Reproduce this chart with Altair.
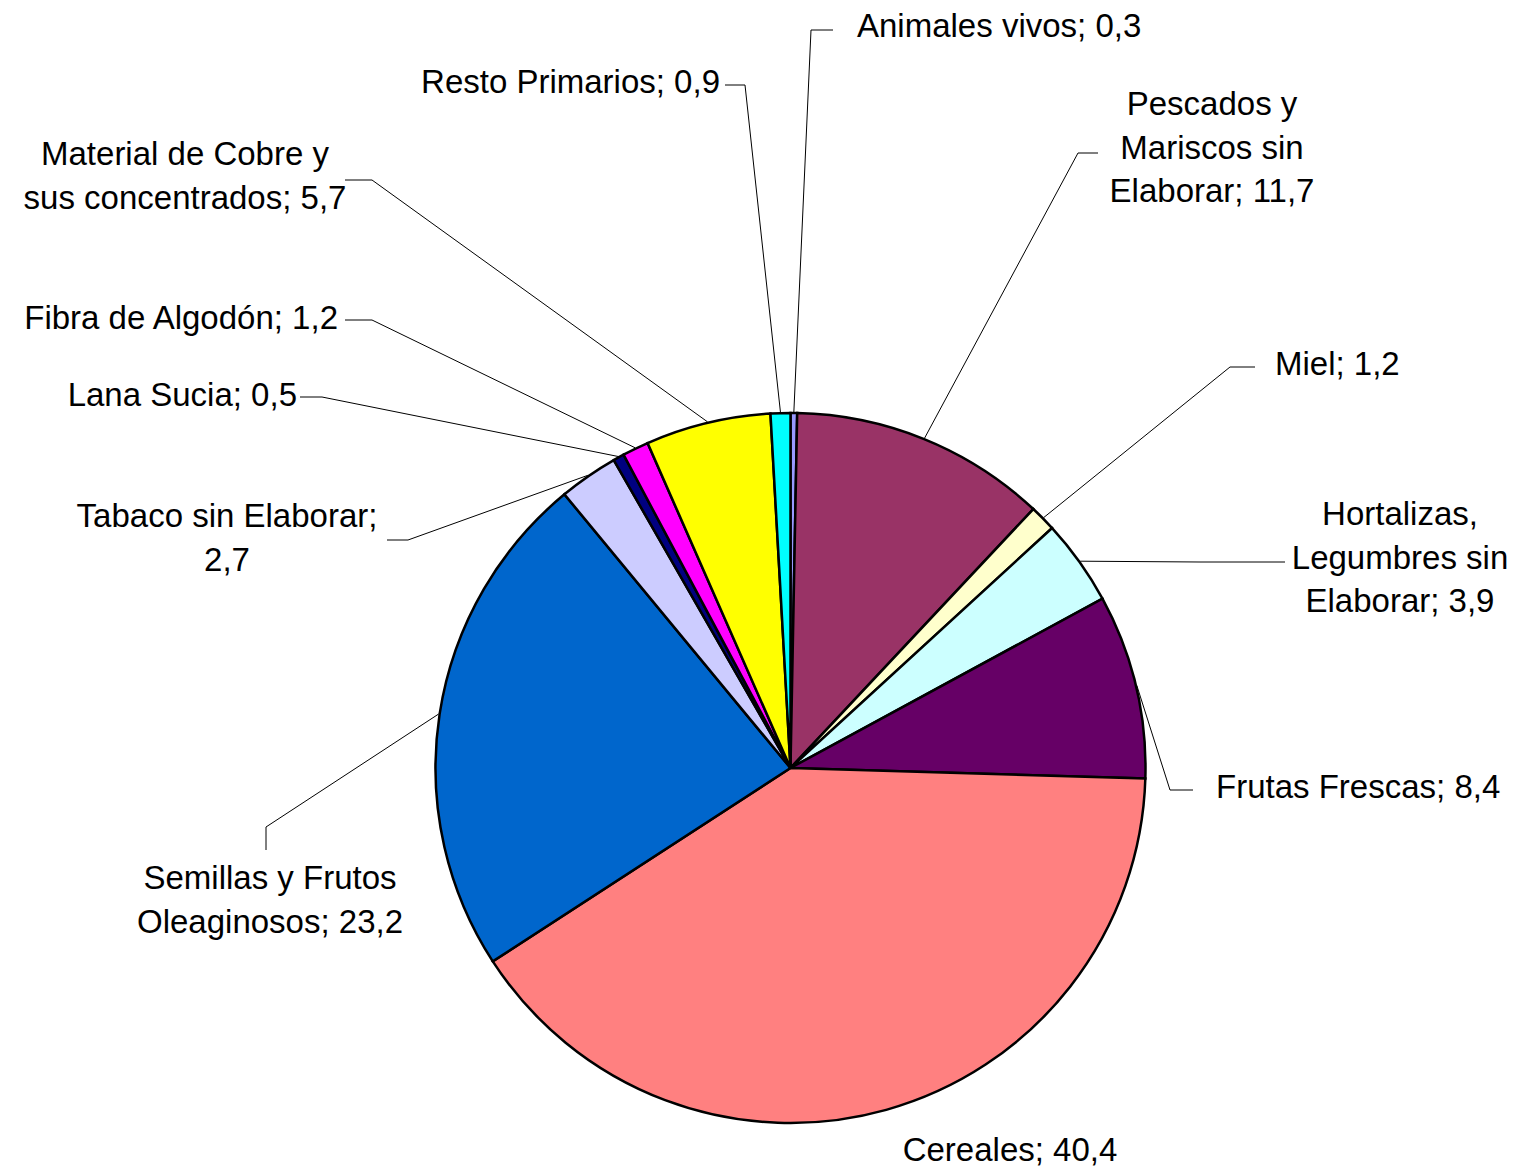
import math
import altair as alt
import pandas as pd

# ---------------- data ----------------
categories = [
    "Animales vivos",
    "Pescados y Mariscos sin Elaborar",
    "Miel",
    "Hortalizas, Legumbres sin Elaborar",
    "Frutas Frescas",
    "Cereales",
    "Semillas y Frutos Oleaginosos",
    "Tabaco sin Elaborar",
    "Lana Sucia",
    "Fibra de Algodón",
    "Material de Cobre y sus concentrados",
    "Resto Primarios",
]
values = [0.3, 11.7, 1.2, 3.9, 8.4, 40.4, 23.2, 2.7, 0.5, 1.2, 5.7, 0.9]
labels = [
    "Animales vivos; 0,3",
    "Pescados y\nMariscos sin\nElaborar; 11,7",
    "Miel; 1,2",
    "Hortalizas,\nLegumbres sin\nElaborar; 3,9",
    "Frutas Frescas; 8,4",
    "Cereales; 40,4",
    "Semillas y Frutos\nOleaginosos; 23,2",
    "Tabaco sin Elaborar;\n2,7",
    "Lana Sucia; 0,5",
    "Fibra de Algodón; 1,2",
    "Material de Cobre y\nsus concentrados; 5,7",
    "Resto Primarios; 0,9",
]
colors = [
    "#9999FF", "#993366", "#FFFFCC", "#CCFFFF", "#660066", "#FF8080",
    "#0066CC", "#CCCCFF", "#000080", "#FF00FF", "#FFFF00", "#00FFFF",
]

# ---------------- layout (page pixels) ----------------
MARGIN = 8
CX, CY, R = 790.5 - MARGIN, 768 - MARGIN, 355
# label anchor: x, first-line baseline y, alignment
label_x = [857, 1212, 1275, 1400, 1216, 1010, 270, 227, 297, 338, 185, 720]
label_y = [37, 115, 375, 525, 798, 1161, 889, 527, 406, 329, 165, 93]
label_align = ["left", "center", "left", "center", "left", "center",
               "center", "center", "right", "right", "center", "right"]
# leader line: elbow point and end point (None = no line)
elbow = [(811, 30), (1078, 153), (1230, 367), (1200, 562), (1170, 790), None,
         (266, 827), (408, 540), (322, 397), (372, 320), (372, 180), (745, 85)]
line_end = [(833, 30), (1098, 153), (1255, 367), (1285, 562), (1193, 790), None,
            (266, 850), (387, 540), (300, 397), (345, 320), (345, 180), (725, 85)]

# ---------------- tables ----------------
pie_df = pd.DataFrame({"cat": categories, "value": values, "idx": range(len(values))})

total = sum(values)
rows = []
cum = 0.0
for i, v in enumerate(values):
    mid = (cum + v / 2) / total * 2 * math.pi
    cum += v
    if elbow[i] is None:
        continue
    sx = CX + (R + 1) * math.sin(mid)
    sy = CY - (R + 1) * math.cos(mid)
    pts = [(sx, sy), (elbow[i][0] - MARGIN, elbow[i][1] - MARGIN),
           (line_end[i][0] - MARGIN, line_end[i][1] - MARGIN)]
    for k, (px, py) in enumerate(pts):
        rows.append({"cat": categories[i], "pt": k, "x": px, "y": py})
line_df = pd.DataFrame(rows)

text_df = pd.DataFrame({
    "label": labels,
    "x": [v - MARGIN for v in label_x],
    "y": [v - MARGIN for v in label_y],
    "align": label_align,
})

# ---------------- chart ----------------
arc = alt.Chart(pie_df).mark_arc(
    outerRadius=R, stroke="black", strokeWidth=2.5
).encode(
    theta=alt.Theta("value:Q", stack=True),
    order=alt.Order("idx:Q", sort="ascending"),
    color=alt.Color("cat:N", scale=alt.Scale(domain=categories, range=colors), legend=None),
    x=alt.value(CX),
    y=alt.value(CY),
)

lines = alt.Chart(line_df).mark_line(color="black", strokeWidth=1).encode(
    x=alt.X("x:Q", scale=None, axis=None),
    y=alt.Y("y:Q", scale=None, axis=None),
    detail="cat:N",
    order="pt:Q",
)

def text_layer(align):
    return alt.Chart(text_df).transform_filter(
        alt.datum.align == align
    ).mark_text(
        align=align, baseline="alphabetic", font="Liberation Sans",
        fontSize=33, lineHeight=43.5, lineBreak="\n", color="black",
    ).encode(
        x=alt.X("x:Q", scale=None, axis=None),
        y=alt.Y("y:Q", scale=None, axis=None),
        text="label:N",
    )

chart = alt.layer(
    lines, arc, text_layer("left"), text_layer("center"), text_layer("right")
).properties(
    width=1502, height=1160, autosize="none", padding=0, background="white"
).configure_view(stroke=None)

chart.save("out.html", embed_options={"renderer": "svg", "actions": False})
